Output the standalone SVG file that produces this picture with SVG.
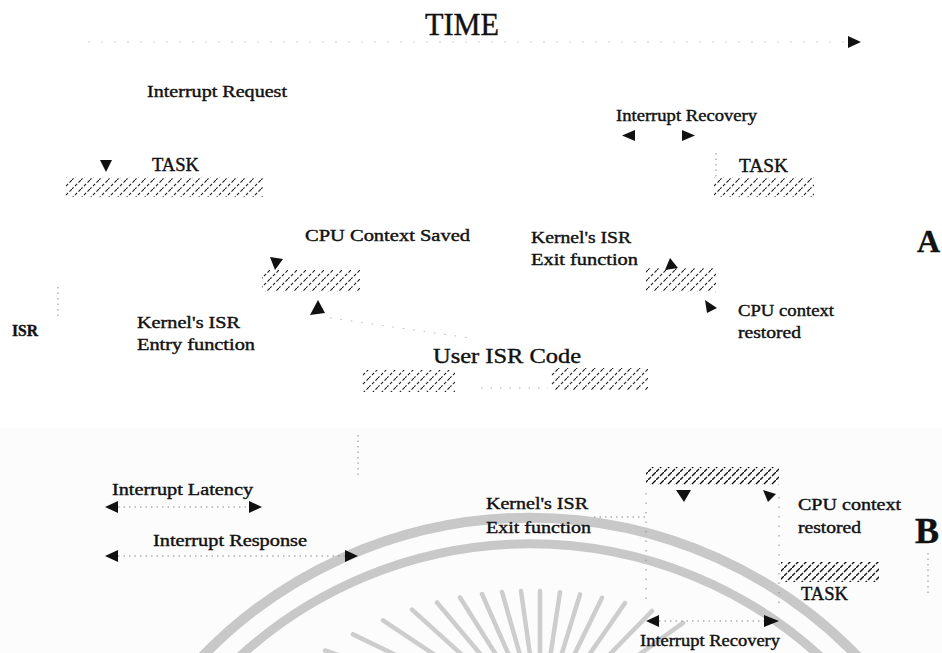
<svg xmlns="http://www.w3.org/2000/svg" width="942" height="653" viewBox="0 0 942 653">
<defs>
<style>
.t{font-family:"Liberation Serif","Times New Roman",serif;fill:#111;font-size:16.5px;stroke:#111;stroke-width:0.4}
.b{font-weight:bold}
.dot{stroke:#8a8a8a;stroke-width:1;stroke-dasharray:1.5 4;fill:none}
.ah{fill:#111}
.wm{stroke:#c8c8c8;fill:none}
.ray{stroke:#cdcdcd;stroke-width:4.5;stroke-linecap:round}
.ha{fill:url(#hatchA)}
.hb{fill:url(#hatchB)}
</style>
<pattern id="hatchA" patternUnits="userSpaceOnUse" width="9" height="9">
<path d="M-2,11 L11,-2" stroke="#1e1e1e" stroke-width="1.1" stroke-dasharray="5 2 3 2"/>
</pattern>
<pattern id="hatchB" patternUnits="userSpaceOnUse" width="8" height="8">
<path d="M-2,10 L10,-2" stroke="#151515" stroke-width="1.4" stroke-dasharray="7 1.5"/>
</pattern>
</defs>
<rect x="0" y="0" width="942" height="653" fill="#ffffff"/>
<rect x="0" y="428" width="942" height="225" fill="#fcfcfc"/>

<g id="watermark">
<path class="wm" stroke-width="10" d="M199,660 A456,456 0 0 1 861,660"/>
<path class="wm" stroke-width="9" d="M236,660 A430,430 0 0 1 824,660"/>
<line class="ray" x1="325" y1="650.5" x2="396" y2="675"/>
<line class="ray" x1="353" y1="634.4" x2="420.5" y2="667"/>
<line class="ray" x1="383" y1="620.3" x2="445.4" y2="662"/>
<line class="ray" x1="412" y1="609.6" x2="467.7" y2="660"/>
<line class="ray" x1="437" y1="602.5" x2="485.3" y2="660"/>
<line class="ray" x1="460" y1="597.5" x2="500" y2="661"/>
<line class="ray" x1="482" y1="594" x2="512.4" y2="663"/>
<line class="ray" x1="502" y1="592" x2="522.6" y2="664"/>
<line class="ray" x1="521" y1="591" x2="531.5" y2="665"/>
<line class="ray" x1="540" y1="591" x2="540" y2="666"/>
<line class="ray" x1="560" y1="592.2" x2="548.8" y2="666"/>
<line class="ray" x1="580" y1="594.3" x2="558" y2="666"/>
<line class="ray" x1="602" y1="597.8" x2="569.2" y2="665"/>
<line class="ray" x1="625" y1="603" x2="582.1" y2="665"/>
<line class="ray" x1="652" y1="611" x2="599.4" y2="665"/>
<line class="ray" x1="683" y1="622.9" x2="622" y2="667"/>
</g>

<g id="connectors">
<line class="dot" x1="88" y1="42" x2="846" y2="42" style="stroke:#d2d2d2;stroke-dasharray:2 11"/>
<polygon class="ah" points="848,36 861,42 848,48"/>
<polygon class="ah" points="100,160 112,160 106,172"/>
<polygon class="ah" points="635,130 622,135.5 635,141"/>
<polygon class="ah" points="682,130 695,135.5 682,141"/>
<line class="dot" x1="716" y1="153" x2="716" y2="177"/>
<polygon class="ah" points="270,257 283,259 275,270"/>
<polygon class="ah" points="318,300 310,315 325,313"/>
<line class="dot" x1="330" y1="318" x2="470" y2="338" style="stroke:#bbb;stroke-dasharray:1.5 9"/>
<line class="dot" x1="58" y1="287" x2="58" y2="317"/>
<polygon class="ah" points="670,258 678,268 665,270"/>
<polygon class="ah" points="705,300 717,308 707,313"/>
<line class="dot" x1="481" y1="388" x2="548" y2="388" style="stroke:#aaa;stroke-dasharray:1.5 8"/>
<line class="dot" x1="358" y1="435" x2="358" y2="477"/>
<line class="dot" x1="118" y1="507" x2="248" y2="507"/>
<polygon class="ah" points="118,501 105,507 118,513"/>
<polygon class="ah" points="249,501 262,507 249,513"/>
<line class="dot" x1="118" y1="556" x2="345" y2="556"/>
<polygon class="ah" points="118,550 105,556 118,562"/>
<polygon class="ah" points="345,550 358,556 345,562"/>
<polygon class="ah" points="676,490 691,490 684,502"/>
<polygon class="ah" points="763,490 776,494 768,502"/>
<line class="dot" x1="594" y1="517" x2="646" y2="517"/>
<line class="dot" x1="646" y1="493" x2="646" y2="607" style="stroke-dasharray:1.5 8"/>
<line class="dot" x1="779" y1="497" x2="779" y2="607" style="stroke-dasharray:1.5 8"/>
<line class="dot" x1="928" y1="553" x2="928" y2="593"/>
<line class="dot" x1="659" y1="621" x2="764" y2="621"/>
<polygon class="ah" points="659,615 646,621 659,627"/>
<polygon class="ah" points="764,615 779,621 764,627"/>
</g>

<g id="time"><text class="t" x="425" y="35" style="font-size:31px" textLength="74" lengthAdjust="spacingAndGlyphs">TIME</text></g>
<g id="irq"><text class="t" x="147" y="97" textLength="140" lengthAdjust="spacingAndGlyphs">Interrupt Request</text></g>
<g id="recovery-a"><text class="t" x="616" y="121" textLength="141" lengthAdjust="spacingAndGlyphs">Interrupt Recovery</text></g>
<g id="task-a1">
<text class="t" x="152" y="171" style="font-size:18.5px" textLength="47" lengthAdjust="spacingAndGlyphs">TASK</text>
<rect class="ha" x="65" y="177" width="198" height="20"/>
</g>
<g id="task-a2">
<text class="t" x="739" y="172" style="font-size:18.5px" textLength="49" lengthAdjust="spacingAndGlyphs">TASK</text>
<rect class="ha" x="714" y="177" width="100" height="20"/>
</g>
<g id="ctx-saved">
<text class="t" x="305" y="241" textLength="165" lengthAdjust="spacingAndGlyphs">CPU Context Saved</text>
<rect class="ha" x="262" y="270" width="98" height="22"/>
</g>
<g id="isr-label"><text class="t b" x="12" y="336" style="font-size:16.5px" textLength="26" lengthAdjust="spacingAndGlyphs">ISR</text></g>
<g id="entry-fn">
<text class="t" x="137" y="328" textLength="103" lengthAdjust="spacingAndGlyphs">Kernel's ISR</text>
<text class="t" x="137" y="350" textLength="118" lengthAdjust="spacingAndGlyphs">Entry function</text>
</g>
<g id="user-isr">
<text class="t" x="433" y="363" style="font-size:22px" textLength="148" lengthAdjust="spacingAndGlyphs">User ISR Code</text>
<rect class="ha" x="362" y="370" width="93" height="22"/>
<rect class="ha" x="551" y="368" width="97" height="22"/>
</g>
<g id="exit-fn-a">
<text class="t" x="531" y="243" textLength="100" lengthAdjust="spacingAndGlyphs">Kernel's ISR</text>
<text class="t" x="531" y="265" textLength="107" lengthAdjust="spacingAndGlyphs">Exit function</text>
<rect class="ha" x="646" y="268" width="70" height="24"/>
</g>
<g id="ctx-restored-a">
<text class="t" x="738" y="316" textLength="96" lengthAdjust="spacingAndGlyphs">CPU context</text>
<text class="t" x="738" y="338" textLength="63" lengthAdjust="spacingAndGlyphs">restored</text>
</g>
<g id="label-a"><text class="t b" x="917" y="252" style="font-size:32px">A</text></g>

<g id="latency"><text class="t" x="112" y="495" textLength="141" lengthAdjust="spacingAndGlyphs">Interrupt Latency</text></g>
<g id="response"><text class="t" x="153" y="546" textLength="154" lengthAdjust="spacingAndGlyphs">Interrupt Response</text></g>
<g id="exit-fn-b">
<text class="t" x="486" y="509" textLength="102" lengthAdjust="spacingAndGlyphs">Kernel's ISR</text>
<text class="t" x="486" y="533" textLength="105" lengthAdjust="spacingAndGlyphs">Exit function</text>
<rect class="hb" x="646" y="467" width="133" height="18"/>
</g>
<g id="ctx-restored-b">
<text class="t" x="798" y="510" textLength="103" lengthAdjust="spacingAndGlyphs">CPU context</text>
<text class="t" x="798" y="533" textLength="63" lengthAdjust="spacingAndGlyphs">restored</text>
</g>
<g id="label-b"><text class="t b" x="915" y="543" style="font-size:36px">B</text></g>
<g id="task-b">
<rect class="hb" x="781" y="562" width="98" height="20"/>
<text class="t" x="801" y="600" style="font-size:18.5px" textLength="47" lengthAdjust="spacingAndGlyphs">TASK</text>
</g>
<g id="recovery-b"><text class="t" x="640" y="646" textLength="140" lengthAdjust="spacingAndGlyphs">Interrupt Recovery</text></g>
</svg>
